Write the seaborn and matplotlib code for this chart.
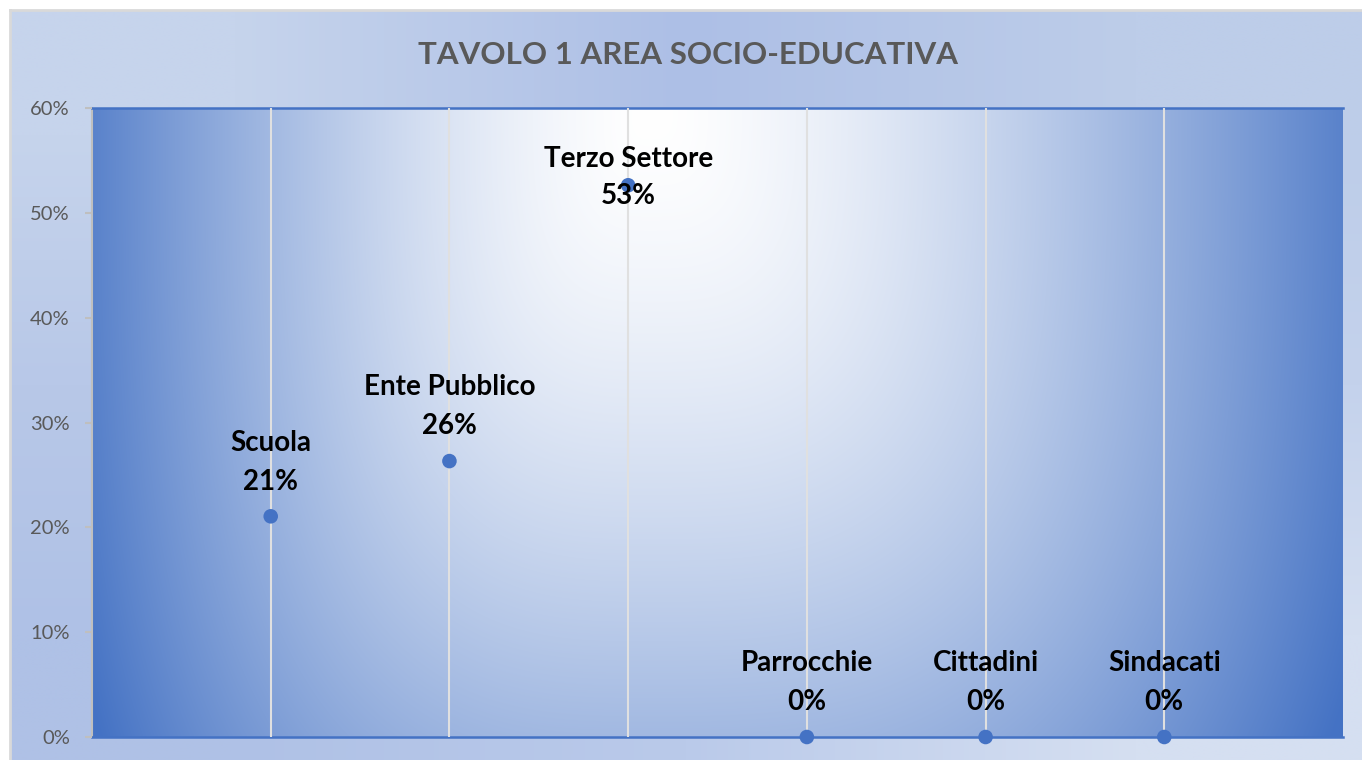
import numpy as np
import pandas as pd
import matplotlib.pyplot as plt
from matplotlib.ticker import PercentFormatter
from matplotlib.colors import to_rgb
import seaborn as sns

sns.set_theme(style="white")
plt.rcParams['font.family'] = ['Lato', 'DejaVu Sans']

# data
categories = ['Scuola', 'Ente Pubblico', 'Terzo Settore', 'Parrocchie', 'Cittadini', 'Sindacati']
shares = [0.2105, 0.2632, 0.5263, 0.0, 0.0, 0.0]
pct_labels = ['21%', '26%', '53%', '0%', '0%', '0%']
title = 'TAVOLO 1 AREA SOCIO-EDUCATIVA'

df = pd.DataFrame({'categoria': categories, 'quota': shares})

BLUE = '#4472C4'
GRAY_TXT = '#595959'

fig = plt.figure(figsize=(13.62, 7.60), dpi=100)
fig.patch.set_facecolor('white')

# chart area background (soft blue gradient) with thin gray border
bg = fig.add_axes([10 / 1362, 0, 1 - 10 / 1362, 1 - 10 / 760], zorder=-10)
bg_grid = np.array([
    [to_rgb('#C6D4EC'), to_rgb('#ADBFE6'), to_rgb('#BDCDE9')],
    [to_rgb('#B8C8E8'), to_rgb('#AEC0E6'), to_rgb('#C4D2EC')],
    [to_rgb('#AFC1E6'), to_rgb('#BACAEA'), to_rgb('#D5DFF1')],
])
bg.imshow(bg_grid, aspect='auto', interpolation='bilinear', extent=[0, 1, 0, 1])
bg.set_xlim(0, 1)
bg.set_ylim(0, 1)
bg.set_xticks([])
bg.set_yticks([])
for side in ['right', 'bottom']:
    bg.spines[side].set_visible(False)
for side in ['left', 'top']:
    bg.spines[side].set_color('#D9D9D9')
    bg.spines[side].set_linewidth(2)

# plot area
ax = fig.add_axes([92 / 1362, 23 / 760, (1343 - 92) / 1362, (737 - 108) / 760])

# fill: white near top centre fading to blue towards the edges
W, H = 1251, 629
px = np.linspace(0, W, 600)
py = np.linspace(0, H, 300)
gx, gy = np.meshgrid(px, py)
cx = 558
rx = np.where(gx < cx, 606, 753)
d = (np.abs((gx - cx) / rx) ** 3 + np.abs(gy / 1000) ** 3) ** (1 / 3)
t = np.clip(d, 0, 1) ** 1.5
white = np.array([1.0, 1.0, 1.0])
blue = np.array(to_rgb(BLUE))
img = white[None, None, :] * (1 - t[..., None]) + blue[None, None, :] * t[..., None]
ax.imshow(img, aspect='auto', extent=[-1, len(categories), 0, 0.6], origin='upper',
          interpolation='bilinear', zorder=0)

ax.set_xticks(range(len(categories)))
ax.set_xticklabels([])
ax.tick_params(axis='x', length=0)
ax.grid(axis='x', color='#E0E0E0', linewidth=1.5, zorder=1)
ax.grid(axis='y', visible=False)
ax.set_axisbelow(False)

sns.scatterplot(data=df, x='categoria', y='quota', ax=ax, color=BLUE, s=110,
                edgecolor='none', zorder=5, clip_on=False, legend=False)
ax.set_xlim(-1, len(categories))
ax.set_ylim(0, 0.6)
ax.set_xlabel('')
ax.set_ylabel('')

ax.yaxis.set_major_formatter(PercentFormatter(1.0, decimals=0))
ax.set_yticks(np.arange(0, 0.61, 0.1))
ax.tick_params(axis='y', length=5, width=1.5, color='#BFBFBF', pad=11,
               labelsize=14.5, labelcolor=GRAY_TXT, left=True)

for side in ['top', 'bottom']:
    ax.spines[side].set_color(BLUE)
    ax.spines[side].set_linewidth(1.8)
ax.spines['left'].set_color('#BFBFBF')
ax.spines['left'].set_linewidth(1.5)
ax.spines['right'].set_visible(False)

# data labels: name on top, percentage below
top_idx = int(np.argmax(shares))
for i, (name, val, lab) in enumerate(zip(categories, shares, pct_labels)):
    if i == top_idx:
        off_name, off_pct = 19, -8
    else:
        off_name, off_pct = 53, 25
    ax.annotate(name, (i, val), xytext=(0, off_name), textcoords='offset points',
                ha='center', va='center', fontsize=20, fontweight='bold', color='black', zorder=6)
    ax.annotate(lab, (i, val), xytext=(0, off_pct), textcoords='offset points',
                ha='center', va='center', fontsize=20, fontweight='bold', color='black', zorder=6)

fig.text(688 / 1362, 1 - 55 / 760, title, ha='center', va='center',
         fontsize=22.5, fontweight='bold', color=GRAY_TXT)

fig.savefig('out.png', dpi=100)
